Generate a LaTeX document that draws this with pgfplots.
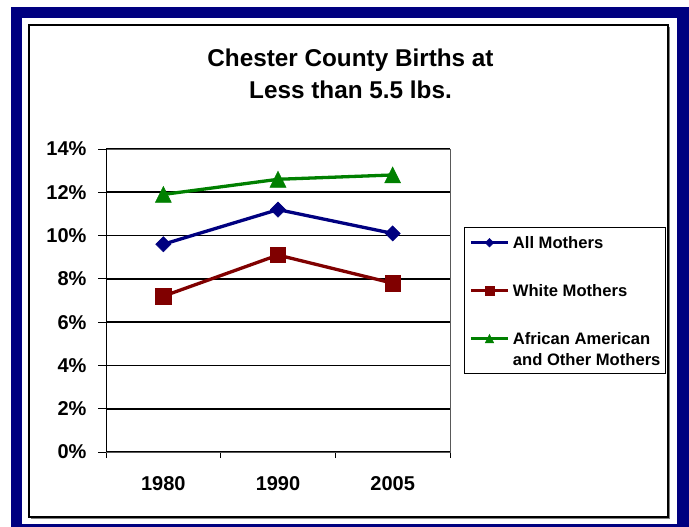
\documentclass[border=0pt]{standalone}
\usepackage{pgfplots}
\pgfplotsset{compat=1.18}
\usepackage{fontspec}
\setmainfont{Liberation Sans}
\definecolor{navyb}{HTML}{000080}
\definecolor{serblue}{HTML}{000080}
\definecolor{serred}{HTML}{800000}
\definecolor{sergreen}{HTML}{008000}
\pgfdeclareplotmark{xldiamond}{%
  \pgfpathmoveto{\pgfqpoint{0pt}{\pgfplotmarksize}}%
  \pgfpathlineto{\pgfqpoint{\pgfplotmarksize}{0pt}}%
  \pgfpathlineto{\pgfqpoint{0pt}{-\pgfplotmarksize}}%
  \pgfpathlineto{\pgfqpoint{-\pgfplotmarksize}{0pt}}%
  \pgfpathclose\pgfusepathqfillstroke}
\pgfdeclareplotmark{xltri}{%
  \pgfpathmoveto{\pgfqpoint{0pt}{\pgfplotmarksize}}%
  \pgfpathlineto{\pgfqpoint{\pgfplotmarksize}{-\pgfplotmarksize}}%
  \pgfpathlineto{\pgfqpoint{-\pgfplotmarksize}{-\pgfplotmarksize}}%
  \pgfpathclose\pgfusepathqfillstroke}
\pgfdeclareplotmark{xlsquare}{%
  \pgfpathrectanglecorners{\pgfqpoint{-\pgfplotmarksize}{-\pgfplotmarksize}}{\pgfqpoint{\pgfplotmarksize}{\pgfplotmarksize}}%
  \pgfusepathqfillstroke}
\begin{document}
\begin{tikzpicture}
\path[use as bounding box] (0,0) rectangle (689bp,527bp);
\fill[white] (0,0) rectangle (689bp,527bp);
\fill[navyb] (11bp,0bp) rectangle (689bp,520bp);
\fill[white] (22bp,3bp) rectangle (677bp,509bp);
\fill[gray] (31bp,8bp) rectangle (670bp,500bp);
\filldraw[fill=white, draw=black, line width=1.2bp] (29bp,10bp) rectangle (668bp,502bp);
\begin{axis}[
  at={(106bp,75bp)}, anchor=south west,
  scale only axis, width=344bp, height=303bp,
  xmin=-0.5, xmax=2.5, ymin=0, ymax=14,
  xtick={0,1,2}, xticklabels={1980,1990,2005},
  minor xtick={-0.5,0.5,1.5,2.5},
  ytick={0,2,4,6,8,10,12,14},
  yticklabels={0\%,2\%,4\%,6\%,8\%,10\%,12\%,14\%},
  tick align=outside, tick pos=lower,
  major tick length=7.7bp, minor tick length=6bp,
  every major x tick/.append style={draw=none},
  tick style={black, line width=0.8bp},
  ymajorgrids, grid style={black, line width=1.8bp},
  axis line style={draw=gray!70!black, line width=0.8bp},
  tick label style={font=\fontsize{20bp}{24bp}\selectfont\bfseries},
  /pgf/number format/assume math mode=true,
  xticklabel style={anchor=north, inner sep=0pt, yshift=-17bp},
  yticklabel style={anchor=east, inner sep=0pt, xshift=-11.6bp},
  legend cell align=left,
  legend style={at={(1.0407,0.7426)}, anchor=north west,
    draw=black, line width=0.8bp, fill=white,
    inner xsep=5bp, inner ysep=0pt, column sep=3.3bp, row sep=0pt,
    nodes={inner sep=0pt},
    font=\fontsize{16.6bp}{20bp}\selectfont\bfseries},
  legend image code/.code={\draw[line width=2.8bp, mark repeat=2,mark phase=2,mark size=4.3bp] plot coordinates {(0bp,0bp) (18.7bp,0bp) (37.4bp,0bp)};},
]
\addplot[serblue, line width=3.3bp, mark=xldiamond, mark size=7.6bp, mark options={solid, line width=0.5bp}]
  coordinates {(0,9.6) (1,11.2) (2,10.1)};
\addlegendentry[text height=21.3bp, text depth=9.3bp]{All Mothers}
\addplot[serred, line width=3.3bp, mark=xlsquare, mark size=7.6bp, mark options={solid, line width=0.5bp}]
  coordinates {(0,7.2) (1,9.1) (2,7.8)};
\addlegendentry[text height=38.7bp, text depth=26.7bp]{White Mothers}
\addplot[sergreen, line width=3.3bp, mark=xltri, mark size=8bp, mark options={solid, line width=0.5bp}]
  coordinates {(0,11.9) (1,12.6) (2,12.8)};
\addlegendentry[text height=21.3bp, text depth=9.3bp]{African American}
\addlegendimage{empty legend}
\addlegendentry[text height=11.7bp, text depth=7.7bp]{and Other Mothers}
\draw[black, line width=0.8bp] (rel axis cs:0,0) -- (rel axis cs:0,1);
\draw[black, line width=1.2bp] (rel axis cs:0,0) -- (rel axis cs:1,0);
\end{axis}
\node[anchor=base, inner sep=0pt, font=\fontsize{24.3bp}{29bp}\selectfont\bfseries] at (350.5bp,460.3bp) {Chester County Births at};
\node[anchor=base, inner sep=0pt, font=\fontsize{24.3bp}{29bp}\selectfont\bfseries] at (350.5bp,428.7bp) {Less than 5.5 lbs.};
\end{tikzpicture}
\end{document}
